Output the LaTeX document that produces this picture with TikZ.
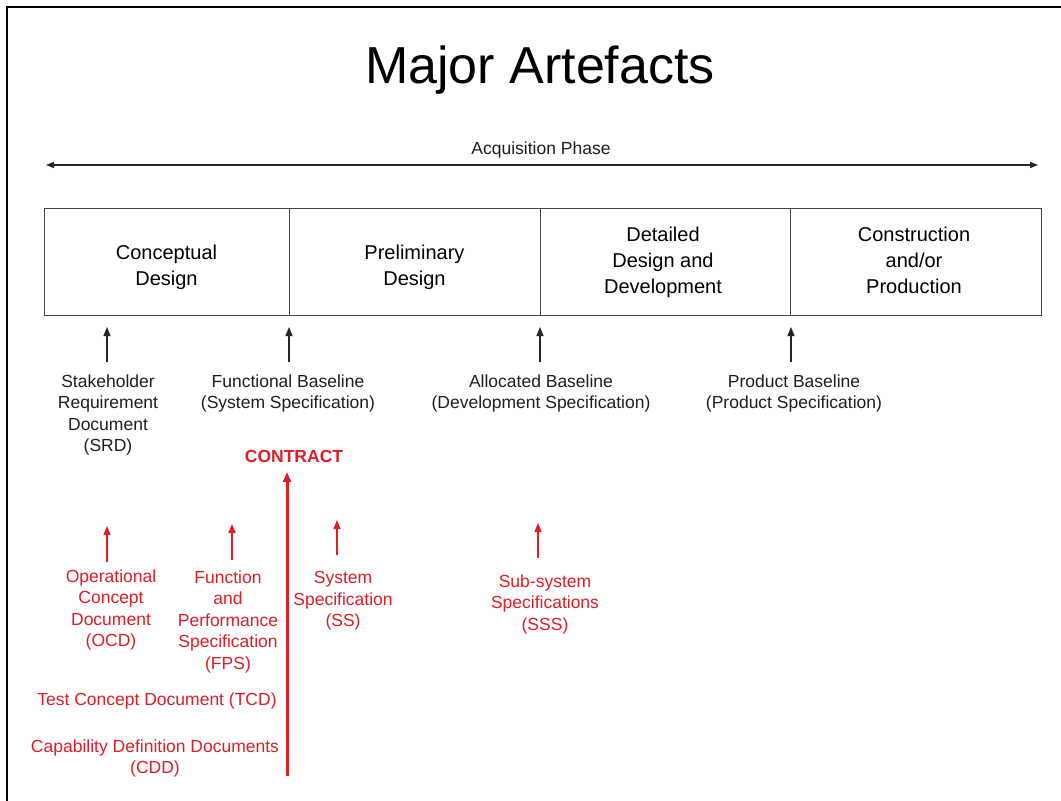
\documentclass[tikz,border=0pt]{standalone}
\usepackage{fontspec}
\setmainfont{Liberation Sans}
\usetikzlibrary{arrows.meta}
\definecolor{redc}{RGB}{222,30,38}
\definecolor{boxc}{RGB}{70,70,70}
\begin{document}
\begin{tikzpicture}[x=1pt,y=-1pt,
  lbl/.style={align=center,inner sep=0pt,anchor=north,font=\fontsize{17.5}{21.5}\selectfont},
  blk/.style={lbl,text=black!88},
  rd/.style={lbl,text=redc},
  phasebox/.style={draw=boxc,line width=1.3pt,minimum height=107pt,anchor=north west,inner sep=0pt},
  phasetxt/.style={align=center,inner sep=0pt,anchor=north,font=\fontsize{20}{26}\selectfont},
  barr/.style={-{Triangle[length=9pt,width=7pt]},line width=1.3pt,black!85},
  rarr/.style={-{Triangle[length=9pt,width=7pt]},line width=1.3pt,redc},
]
\useasboundingbox (0,0) rectangle (1061,801);
\fill[white] (0,0) rectangle (1061,801);
\draw[line width=2.2pt] (7,801) -- (7,7) -- (1061,7);

% title
\node[font=\fontsize{52}{60}\selectfont,anchor=base,inner sep=0pt] (title) at (540,83) {Major Artefacts};

% acquisition phase
\node[font=\fontsize{17.5}{20}\selectfont,anchor=base,inner sep=0pt,text=black!88] (acq) at (541,154) {Acquisition Phase};
\coordinate (acqL) at (46,165);
\coordinate (acqR) at (1038,165);
\draw[{Triangle[length=8pt,width=6pt]}-{Triangle[length=8pt,width=6pt]},line width=1.2pt,black!85] (acqL) -- (acqR);

% phase boxes
\node[phasebox,minimum width=245pt] (cd) at (44,208) {};
\node[phasebox,minimum width=251pt] (pd) at (289,208) {};
\node[phasebox,minimum width=250pt] (dd) at (540,208) {};
\node[phasebox,minimum width=251pt] (cp) at (790,208) {};
\node[phasetxt] (cdt) at (166.5,244.5) {Conceptual\\Design};
\node[phasetxt] (pdt) at (414.5,244.5) {Preliminary\\Design};
\node[phasetxt] (ddt) at (663,226.5) {Detailed\\Design and\\Development};
\node[phasetxt] (cpt) at (914,226.5) {Construction\\and/or\\Production};

% baselines (black)
\node[blk] (srd) at (108,374.3) {Stakeholder\\Requirement\\Document\\(SRD)};
\node[blk] (fb) at (288,374.3) {Functional Baseline\\(System Specification)};
\node[blk] (ab) at (541,374.3) {Allocated Baseline\\(Development Specification)};
\node[blk] (prb) at (794,374.3) {Product Baseline\\(Product Specification)};
\coordinate (a1s) at (107,362); \coordinate (a1e) at (107,327);
\coordinate (a2s) at (289,362); \coordinate (a2e) at (289,327);
\coordinate (a3s) at (540,362); \coordinate (a3e) at (540,327);
\coordinate (a4s) at (791,362); \coordinate (a4e) at (791,327);
\draw[barr] (a1s) -- (a1e);
\draw[barr] (a2s) -- (a2e);
\draw[barr] (a3s) -- (a3e);
\draw[barr] (a4s) -- (a4e);

% contract
\node[font=\bfseries\fontsize{17.5}{20}\selectfont,text=redc,anchor=base,inner sep=0pt] (contract) at (294,462) {CONTRACT};
\coordinate (cs) at (287,776);
\coordinate (ce) at (287,472);
\draw[-{Triangle[length=10pt,width=8pt]},line width=3pt,redc] (cs) -- (ce);

% red documents
\node[rd] (ocd) at (111,569.3) {Operational\\Concept\\Document\\(OCD)};
\node[rd] (fps) at (228,570.3) {Function\\and\\Performance\\Specification\\(FPS)};
\node[rd] (ss) at (343,571.3) {System\\Specification\\(SS)};
\node[rd] (sss) at (545,574.3) {Sub-system\\Specifications\\(SSS)};
\node[rd] (tcd) at (157,692.3) {Test Concept Document (TCD)};
\node[rd] (cdd) at (155,739.3) {Capability Definition Documents\\(CDD)};
\coordinate (r1s) at (107,562); \coordinate (r1e) at (107,526);
\coordinate (r2s) at (232,560); \coordinate (r2e) at (232,524);
\coordinate (r3s) at (337,555); \coordinate (r3e) at (337,520);
\coordinate (r4s) at (538,558); \coordinate (r4e) at (538,523);
\draw[rarr] (r1s) -- (r1e);
\draw[rarr] (r2s) -- (r2e);
\draw[rarr] (r3s) -- (r3e);
\draw[rarr] (r4s) -- (r4e);
\end{tikzpicture}
\end{document}
